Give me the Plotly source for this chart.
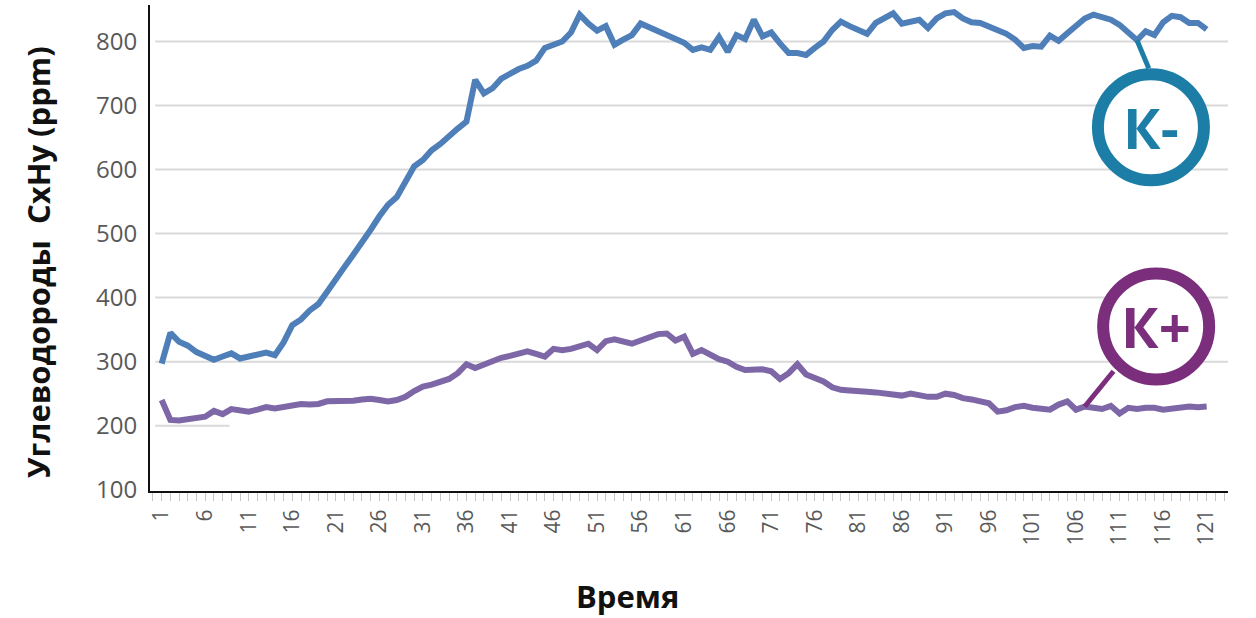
import plotly.graph_objects as go

# Hydrocarbon (CxHy) concentration over time for the two runs
time = list(range(1, 122))

k_minus = [
    297, 345, 331, 325, 315, 308, 303, 308, 313, 305,
    308, 309, 314, 310, 330, 357, 366, 380, 390, 409,
    430, 448, 467, 485, 506, 527, 545, 557, 582, 605,
    615, 630, 640, 653, 664, 675, 740, 719, 727, 742,
    750, 757, 762, 770, 790, 796, 800, 814, 842, 828,
    817, 824, 795, 803, 810, 828, 822, 818, 812, 805,
    798, 787, 791, 787, 807, 784, 810, 804, 834, 808,
    814, 797, 782, 782, 779, 790, 800, 818, 831, 824,
    818, 812, 829, 836, 844, 828, 831, 834, 821, 836,
    844, 846, 836, 830, 829, 823, 819, 812, 803, 790,
    793, 792, 809, 801, 813, 825, 836, 842, 839, 834,
    826, 814, 802, 816, 810, 830, 840, 838, 829, 829,
    819,
]

k_plus = [
    240, 209, 208, 210, 212, 214, 223, 218, 226, 223,
    222, 225, 229, 227, 230, 231, 234, 233, 234, 238,
    238, 237, 239, 241, 242, 240, 238, 240, 245, 254,
    261, 264, 268, 273, 282, 296, 290, 296, 302, 306,
    309, 313, 316, 312, 308, 320, 318, 320, 323, 328,
    318, 332, 335, 331, 328, 333, 339, 343, 344, 333,
    339, 312, 318, 310, 304, 300, 292, 287, 287, 288,
    285, 273, 282, 296, 280, 274, 269, 260, 256, 255,
    253, 253, 252, 251, 248, 247, 250, 247, 245, 245,
    250, 248, 243, 241, 238, 235, 222, 224, 229, 231,
    228, 226, 225, 233, 238, 225, 230, 228, 226, 231,
    219, 228, 226, 228, 228, 225, 227, 228, 230, 229,
    230,
]

x_tick_values = list(range(1, 122, 5))
x_tick_labels = [str(v) for v in x_tick_values]
y_tick_values = [100, 200, 300, 400, 500, 600, 700, 800]
grid_levels = [300, 400, 500, 600, 700, 800]

X_RANGE = [-0.34, 123.45]
Y_RANGE = [98, 857]

BLUE_LINE = "#4f7fb8"
PURPLE_LINE = "#7d67a6"
BLUE_RING = "#1c7ea6"
PURPLE_RING = "#7a2e7c"
GRID = "#d9d9d9"
TICK_GREY = "#595959"

fig = go.Figure()

fig.add_trace(go.Scatter(x=time, y=k_minus, mode="lines", name="К-",
                         line=dict(color=BLUE_LINE, width=6)))
fig.add_trace(go.Scatter(x=time, y=k_plus, mode="lines", name="К+",
                         line=dict(color=PURPLE_LINE, width=6)))

shapes = []
# horizontal gridlines
for lvl in grid_levels:
    shapes.append(dict(type="line", xref="x", yref="y", x0=X_RANGE[0] + 0.6, x1=X_RANGE[1],
                       y0=lvl, y1=lvl, line=dict(color=GRID, width=2), layer="below"))
# the 200 gridline only shows as a short stub at the left
shapes.append(dict(type="line", xref="x", yref="y", x0=X_RANGE[0] + 0.6, x1=8.8,
                   y0=200, y1=200, line=dict(color=GRID, width=2), layer="below"))

# callout bubbles with leader lines
callouts = [
    # (text, ring colour, centre x, centre y, line anchor index, leader end x, leader end y)
    ("К-", BLUE_RING, 114.6, 666, 113, 114.35, 758, k_minus),
    ("К+", PURPLE_RING, 115.2, 355, 107, 110.3, 285, k_plus),
]
annotations = []
for text, colour, cx, cy, idx, lx, ly, series in callouts:
    shapes.append(dict(type="line", xref="x", yref="y", x0=idx, y0=series[idx - 1],
                       x1=lx, y1=ly, line=dict(color=colour, width=5)))
    shapes.append(dict(type="circle", xref="x", yref="y", xsizemode="pixel", ysizemode="pixel",
                       xanchor=cx, yanchor=cy, x0=-53, x1=53, y0=-53, y1=53,
                       fillcolor="white", line=dict(color=colour, width=12)))
    annotations.append(dict(x=cx, y=cy, xref="x", yref="y", text=f"<b>{text}</b>",
                            showarrow=False, xanchor="center", yanchor="middle",
                            font=dict(family="Open Sans", size=56, color=colour)))

annotations.append(dict(x=-0.104, y=0.471, xref="paper", yref="paper",
                        text="<b>Углеводороды  CxHy (ppm)</b>", textangle=-90, showarrow=False,
                        xanchor="center", yanchor="middle",
                        font=dict(family="Open Sans", size=31, color="#111111")))
annotations.append(dict(x=0.4434, y=-0.216, xref="paper", yref="paper",
                        text="<b>Время</b>", showarrow=False,
                        xanchor="center", yanchor="middle",
                        font=dict(family="Open Sans", size=31, color="#111111")))

fig.update_layout(
    width=1256, height=618,
    margin=dict(l=150, r=28, t=5, b=127),
    paper_bgcolor="white", plot_bgcolor="white",
    showlegend=False,
    shapes=shapes,
    annotations=annotations,
    xaxis=dict(
        range=X_RANGE, tickmode="array", tickvals=x_tick_values, ticktext=x_tick_labels,
        tickangle=-90, ticks="outside", ticklen=8, tickcolor="#c8c8c8", tickwidth=1,
        minor=dict(dtick=1, tick0=1, ticks="outside", ticklen=8, tickcolor="#c8c8c8", tickwidth=1),
        showgrid=False, zeroline=False,
        showline=True, linecolor="#111111", linewidth=2,
        tickfont=dict(family="Open Sans", size=21, color=TICK_GREY),
    ),
    yaxis=dict(
        range=Y_RANGE, tickmode="array", tickvals=y_tick_values,
        showgrid=False, zeroline=False, ticks="",
        showline=True, linecolor="#111111", linewidth=2,
        tickfont=dict(family="Open Sans", size=24, color=TICK_GREY),
        ticklabelstandoff=6,
    ),
)

fig.write_html("out.html")
